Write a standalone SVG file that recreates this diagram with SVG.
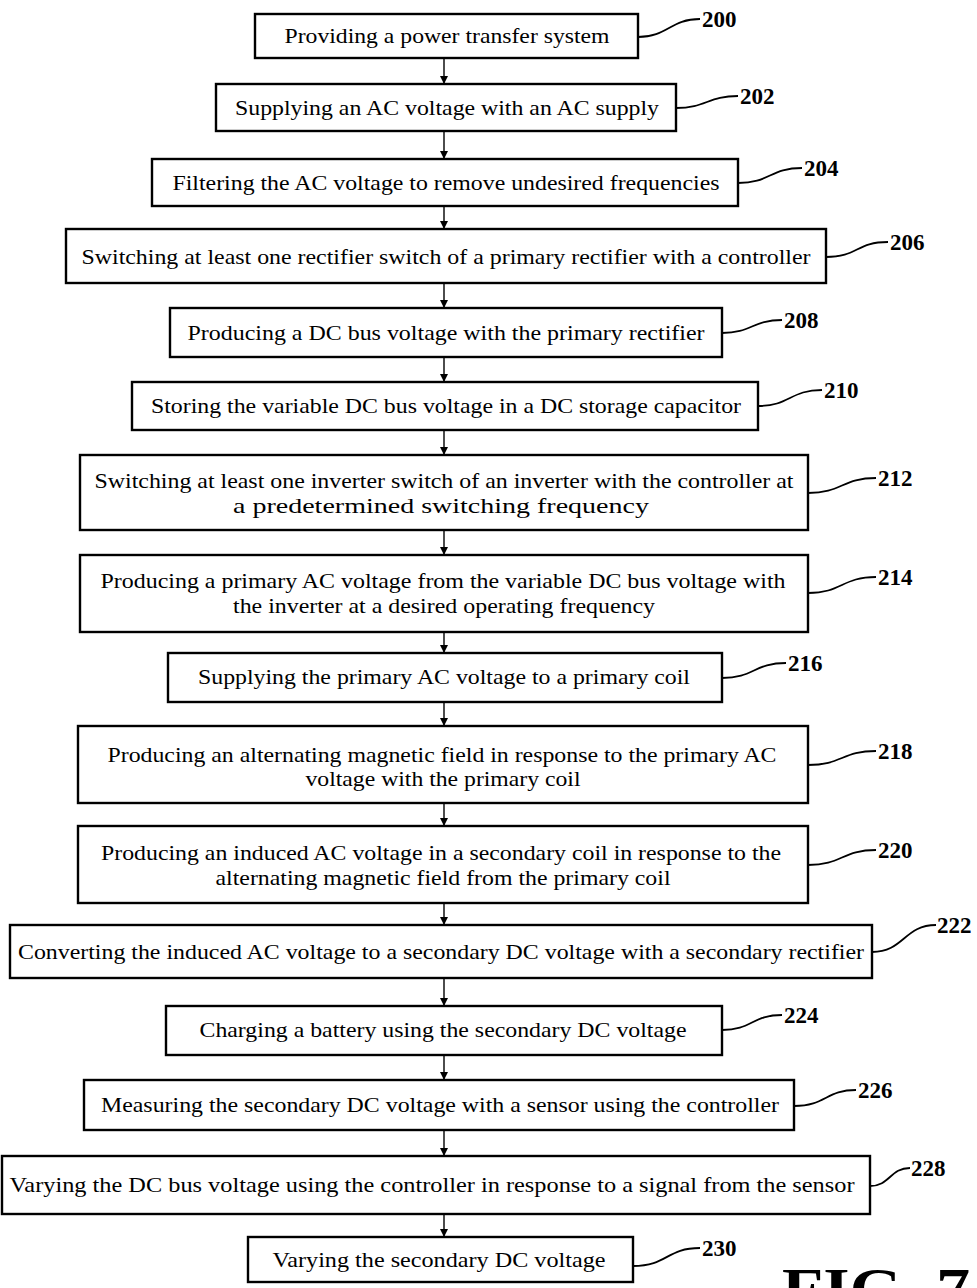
<svg xmlns="http://www.w3.org/2000/svg" width="977" height="1288" viewBox="0 0 977 1288">
<defs>
<style>
.b{fill:#fff;stroke:#000;stroke-width:2.4}
.t{font-family:"Liberation Serif","Times New Roman",serif;font-size:21px;fill:#000;text-anchor:middle}
.n{font-family:"Liberation Serif","Times New Roman",serif;font-size:23px;font-weight:bold;fill:#000}
.l{fill:none;stroke:#000;stroke-width:1.8}
.c{stroke:#000;stroke-width:1.4;fill:none}
</style>
<marker id="ah" markerWidth="8" markerHeight="10" refX="7" refY="4" orient="auto" markerUnits="userSpaceOnUse">
<path d="M0,0 L8,4 L0,8 Z" fill="#000"/>
</marker>
</defs>
<rect width="977" height="1288" fill="#fff"/>
<g id="connectors">
<line class="c" x1="444" y1="58" x2="444" y2="83" marker-end="url(#ah)"/>
<line class="c" x1="444" y1="131" x2="444" y2="158" marker-end="url(#ah)"/>
<line class="c" x1="444" y1="206" x2="444" y2="228" marker-end="url(#ah)"/>
<line class="c" x1="444" y1="283" x2="444" y2="307" marker-end="url(#ah)"/>
<line class="c" x1="444" y1="357" x2="444" y2="381" marker-end="url(#ah)"/>
<line class="c" x1="444" y1="430" x2="444" y2="454" marker-end="url(#ah)"/>
<line class="c" x1="444" y1="530" x2="444" y2="554" marker-end="url(#ah)"/>
<line class="c" x1="444" y1="632" x2="444" y2="652" marker-end="url(#ah)"/>
<line class="c" x1="444" y1="702" x2="444" y2="725" marker-end="url(#ah)"/>
<line class="c" x1="444" y1="803" x2="444" y2="825" marker-end="url(#ah)"/>
<line class="c" x1="444" y1="903" x2="444" y2="924" marker-end="url(#ah)"/>
<line class="c" x1="444" y1="978" x2="444" y2="1005" marker-end="url(#ah)"/>
<line class="c" x1="444" y1="1055" x2="444" y2="1079" marker-end="url(#ah)"/>
<line class="c" x1="444" y1="1130" x2="444" y2="1155" marker-end="url(#ah)"/>
<line class="c" x1="444" y1="1214" x2="444" y2="1236" marker-end="url(#ah)"/>
</g>
<g id="n200"><rect class="b" x="255" y="14" width="383" height="44"/><text class="t" x="447" y="43" textLength="325" lengthAdjust="spacingAndGlyphs">Providing a power transfer system</text><path class="l" d="M638,37 C668,37 670,19 700,19"/><text class="n" x="702" y="27">200</text></g>
<g id="n202"><rect class="b" x="216" y="84" width="460" height="47"/><text class="t" x="447" y="115" textLength="424" lengthAdjust="spacingAndGlyphs">Supplying an AC voltage with an AC supply</text><path class="l" d="M676,108 C706,108 708,96 738,96"/><text class="n" x="740" y="104">202</text></g>
<g id="n204"><rect class="b" x="152" y="159" width="586" height="47"/><text class="t" x="446" y="190" textLength="547" lengthAdjust="spacingAndGlyphs">Filtering the AC voltage to remove undesired frequencies</text><path class="l" d="M738,183 C770,183 770,168 802,168"/><text class="n" x="804" y="176">204</text></g>
<g id="n206"><rect class="b" x="66" y="229" width="760" height="54"/><text class="t" x="446" y="264" textLength="729" lengthAdjust="spacingAndGlyphs">Switching at least one rectifier switch of a primary rectifier with a controller</text><path class="l" d="M826,257 C858,257 856,242 888,242"/><text class="n" x="890" y="250">206</text></g>
<g id="n208"><rect class="b" x="170" y="308" width="552" height="49"/><text class="t" x="446" y="340" textLength="517" lengthAdjust="spacingAndGlyphs">Producing a DC bus voltage with the primary rectifier</text><path class="l" d="M722,333 C752,333 752,320 782,320"/><text class="n" x="784" y="328">208</text></g>
<g id="n210"><rect class="b" x="132" y="382" width="626" height="48"/><text class="t" x="446" y="413" textLength="590" lengthAdjust="spacingAndGlyphs">Storing the variable DC bus voltage in a DC storage capacitor</text><path class="l" d="M758,406 C790,406 790,390 822,390"/><text class="n" x="824" y="398">210</text></g>
<g id="n212"><rect class="b" x="80" y="455" width="728" height="75"/><text class="t" x="444" y="488" textLength="699" lengthAdjust="spacingAndGlyphs">Switching at least one inverter switch of an inverter with the controller at</text><text class="t" x="441" y="513" textLength="416" lengthAdjust="spacingAndGlyphs">a predetermined switching frequency</text><path class="l" d="M808,493 C842,493 842,478 876,478"/><text class="n" x="878" y="486">212</text></g>
<g id="n214"><rect class="b" x="80" y="555" width="728" height="77"/><text class="t" x="443" y="588" textLength="685" lengthAdjust="spacingAndGlyphs">Producing a primary AC voltage from the variable DC bus voltage with</text><text class="t" x="444" y="613" textLength="422" lengthAdjust="spacingAndGlyphs">the inverter at a desired operating frequency</text><path class="l" d="M808,593 C842,593 842,577 876,577"/><text class="n" x="878" y="585">214</text></g>
<g id="n216"><rect class="b" x="168" y="653" width="554" height="49"/><text class="t" x="444" y="684" textLength="492" lengthAdjust="spacingAndGlyphs">Supplying the primary AC voltage to a primary coil</text><path class="l" d="M722,678 C754,678 754,663 786,663"/><text class="n" x="788" y="671">216</text></g>
<g id="n218"><rect class="b" x="78" y="726" width="730" height="77"/><text class="t" x="442" y="762" textLength="669" lengthAdjust="spacingAndGlyphs">Producing an alternating magnetic field in response to the primary AC</text><text class="t" x="443" y="786" textLength="275" lengthAdjust="spacingAndGlyphs">voltage with the primary coil</text><path class="l" d="M808,765 C842,765 842,751 876,751"/><text class="n" x="878" y="759">218</text></g>
<g id="n220"><rect class="b" x="78" y="826" width="730" height="77"/><text class="t" x="441" y="860" textLength="680" lengthAdjust="spacingAndGlyphs">Producing an induced AC voltage in a secondary coil in response to the</text><text class="t" x="443" y="885" textLength="455" lengthAdjust="spacingAndGlyphs">alternating magnetic field from the primary coil</text><path class="l" d="M808,865 C842,865 842,850 876,850"/><text class="n" x="878" y="858">220</text></g>
<g id="n222"><rect class="b" x="10" y="925" width="862" height="53"/><text class="t" x="441" y="959" textLength="846" lengthAdjust="spacingAndGlyphs">Converting the induced AC voltage to a secondary DC voltage with a secondary rectifier</text><path class="l" d="M872,952 C904,952 904,925 936,925"/><text class="n" x="937" y="933">222</text></g>
<g id="n224"><rect class="b" x="166" y="1006" width="556" height="49"/><text class="t" x="443" y="1037" textLength="487" lengthAdjust="spacingAndGlyphs">Charging a battery using the secondary DC voltage</text><path class="l" d="M722,1030 C752,1030 752,1015 782,1015"/><text class="n" x="784" y="1023">224</text></g>
<g id="n226"><rect class="b" x="84" y="1080" width="710" height="50"/><text class="t" x="440" y="1112" textLength="678" lengthAdjust="spacingAndGlyphs">Measuring the secondary DC voltage with a sensor using the controller</text><path class="l" d="M794,1106 C826,1106 826,1090 856,1090"/><text class="n" x="858" y="1098">226</text></g>
<g id="n228"><rect class="b" x="2" y="1156" width="868" height="58"/><text class="t" x="432" y="1192" textLength="845" lengthAdjust="spacingAndGlyphs">Varying the DC bus voltage using the controller in response to a signal from the sensor</text><path class="l" d="M870,1186 C890,1186 890,1168 910,1168"/><text class="n" x="911" y="1176">228</text></g>
<g id="n230"><rect class="b" x="248" y="1237" width="385" height="45"/><text class="t" x="439" y="1267" textLength="333" lengthAdjust="spacingAndGlyphs">Varying the secondary DC voltage</text><path class="l" d="M633,1266 C668,1266 666,1248 700,1248"/><text class="n" x="702" y="1256">230</text></g>
<text x="782" y="1308" font-family="Liberation Serif, serif" font-size="56" font-weight="bold" textLength="188" lengthAdjust="spacingAndGlyphs">FIG. 7</text>
</svg>
